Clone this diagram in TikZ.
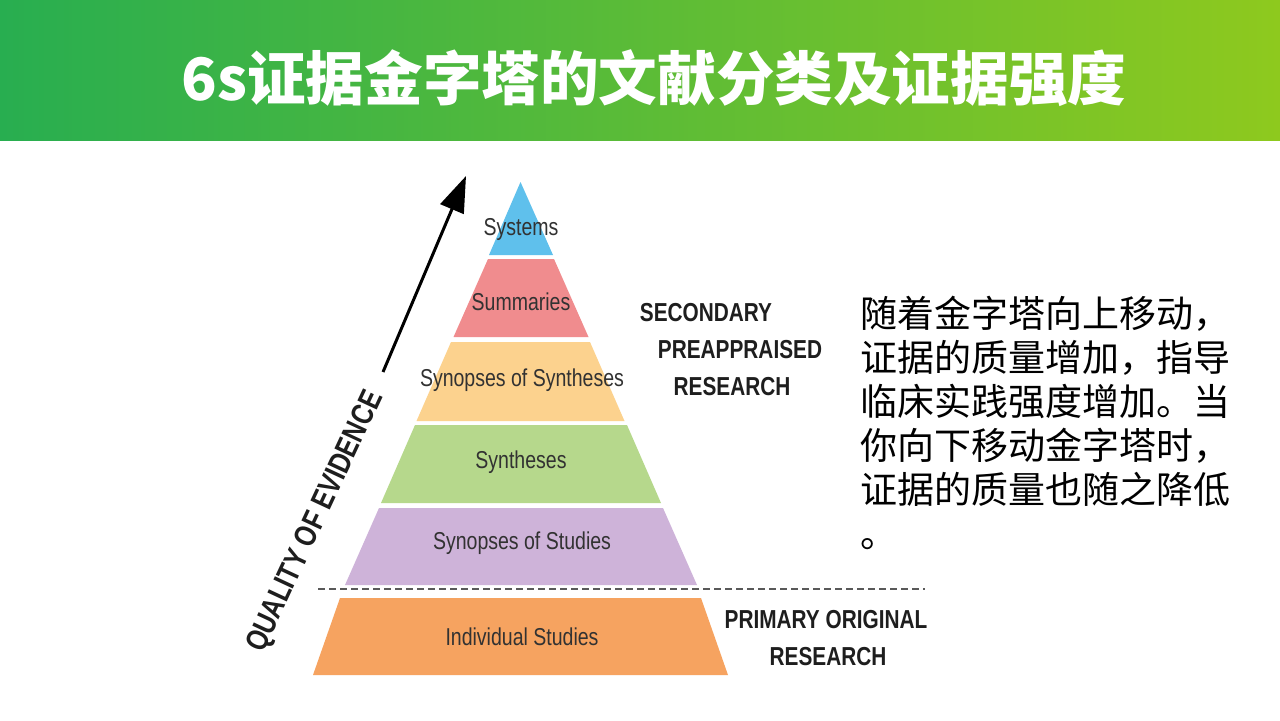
\documentclass[tikz,border=0pt]{standalone}
\usepackage{fontspec}
\setmainfont{Liberation Sans}
\newfontfamily\cjk{Noto Sans CJK SC}
\usetikzlibrary{arrows.meta}
\definecolor{titleL}{RGB}{40,174,80}
\definecolor{titleR}{RGB}{142,201,30}
\definecolor{cBlue}{RGB}{95,192,236}
\definecolor{cPink}{RGB}{240,140,142}
\definecolor{cYellow}{RGB}{252,210,142}
\definecolor{cGreen}{RGB}{182,216,140}
\definecolor{cPurple}{RGB}{206,179,217}
\definecolor{cOrange}{RGB}{246,163,96}
\definecolor{labelgray}{RGB}{50,50,50}
\definecolor{darktxt}{RGB}{30,30,30}
\newcommand{\narrowtxt}[1]{\scalebox{0.8}[1]{#1}}
\tikzset{
  layerlabel/.style={inner sep=0pt, text=labelgray, font=\fontsize{12.2pt}{14pt}\selectfont},
  sidelabel/.style={inner sep=0pt, text=darktxt, font=\fontsize{13pt}{15pt}\selectfont\bfseries},
  cntext/.style={inner sep=0pt, anchor=base west, text=black, font=\cjk\fontsize{18.5pt}{22pt}\selectfont},
  titletext/.style={inner sep=0pt, text=white, font=\cjk\bfseries\fontsize{29.3pt}{32pt}\selectfont},
  qarrow/.style={line width=1.5pt, -{Triangle[length=18pt,width=12.5pt]}},
  divider/.style={dashed, dash pattern=on 3.5pt off 2pt, line width=1pt, draw=black!65}
}
\begin{document}
\begin{tikzpicture}[x=0.5pt,y=-0.5pt]
\useasboundingbox (0,0) rectangle (1280,720);
\fill[white] (0,0) rectangle (1280,720);
% title bar
\shade[left color=titleL, right color=titleR] (0,0) rectangle (1280,140);
\node[titletext] (title) at (654,78) {6s证据金字塔的文献分类及证据强度};
% pyramid layers
\fill[cBlue]   (520.5,182) -- (553,255) -- (489,255) -- cycle;
\fill[cPink]   (488,259) -- (554,259) -- (588.5,337) -- (453.5,337) -- cycle;
\fill[cYellow] (451,342) -- (590,342) -- (624.5,421) -- (416.5,421) -- cycle;
\fill[cGreen]  (415,425) -- (627,425) -- (661,503) -- (381,503) -- cycle;
\fill[cPurple] (379,508) -- (663,508) -- (697,585) -- (345,585) -- cycle;
\fill[cOrange] (340,598) -- (701,598) -- (728,675) -- (313,675) -- cycle;
\node[layerlabel] (l1) at (521,230) {\narrowtxt{Systems}};
\node[layerlabel] (l2) at (521,302) {\narrowtxt{Summaries}};
\node[layerlabel] (l3) at (522,380) {\narrowtxt{Synopses of Syntheses}};
\node[layerlabel] (l4) at (521,462) {\narrowtxt{Syntheses}};
\node[layerlabel] (l5) at (522,543) {\narrowtxt{Synopses of Studies}};
\node[layerlabel] (l6) at (522,637) {\narrowtxt{Individual Studies}};
% divider
\coordinate (dA) at (318,589);
\coordinate (dB) at (925,589);
\draw[divider] (dA) -- (dB);
% side labels
\node[sidelabel] (s1) at (706,313) {\narrowtxt{SECONDARY}};
\node[sidelabel] (s2) at (740,350) {\narrowtxt{PREAPPRAISED}};
\node[sidelabel] (s3) at (732,387) {\narrowtxt{RESEARCH}};
\node[sidelabel] (p1) at (826,620) {\narrowtxt{PRIMARY ORIGINAL}};
\node[sidelabel] (p2) at (828,657) {\narrowtxt{RESEARCH}};
% quality arrow
\coordinate (arrS) at (383,372);
\coordinate (arrE) at (466,176);
\draw[qarrow] (arrS) -- (arrE);
\node[sidelabel, font=\fontsize{15.5pt}{17pt}\selectfont\bfseries, rotate=65] (qoe) at (316,522) {\narrowtxt{QUALITY OF EVIDENCE}};
% chinese text
\node[cntext] (t1) at (860,327) {随着金字塔向上移动，};
\node[cntext] (t2) at (860,371) {证据的质量增加，指导};
\node[cntext] (t3) at (860,415) {临床实践强度增加。当};
\node[cntext] (t4) at (860,459) {你向下移动金字塔时，};
\node[cntext] (t5) at (860,503) {证据的质量也随之降低};
\node[cntext] (t6) at (860,547) {。};
\end{tikzpicture}
\end{document}
